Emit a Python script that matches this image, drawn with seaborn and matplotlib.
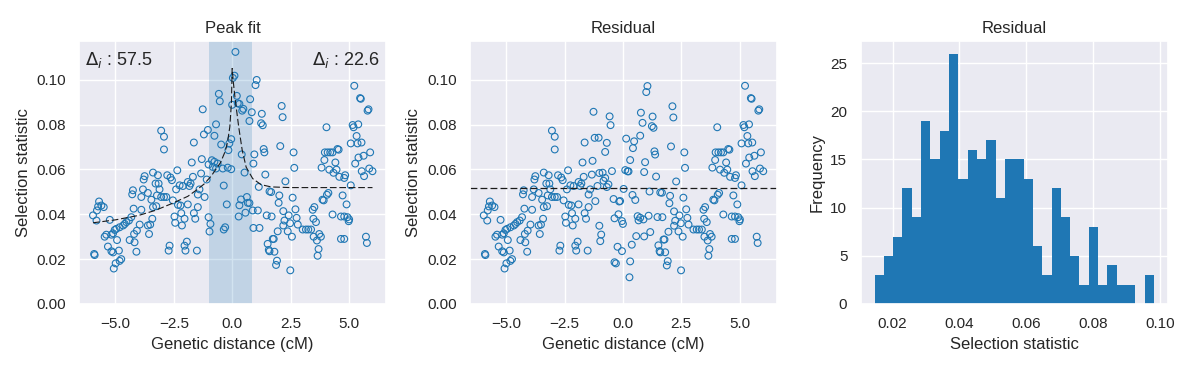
import numpy as np
import pandas as pd
import seaborn as sns
import matplotlib
matplotlib.use("Agg")
import matplotlib.pyplot as plt

# scatter points (genetic distance in cM, selection statistic)
dist = [
    -3.39, -3.75, -3.79, -4.25, -4.28, -3.82, -3.61, -3.89, -3.46, -5.70,
    -5.60, -5.50, -5.74, -5.79, -5.96, -5.81, -5.24, -4.22, -3.89, -3.39,
    -3.42, -3.51, -3.61, -3.56, -4.32, -4.42, -4.53, -4.60, -4.67, -4.82,
    -4.96, -5.10, -5.39, -5.46, -4.93, -3.96, -4.08, -4.20, -4.39, -4.18,
    -5.32, -5.17, -5.10, -4.85, -4.10, -5.91, -4.75, -4.82, -4.99, -5.07,
    -3.28, -3.22, -5.17, -5.03, -5.89,
    -3.04, -2.92, -2.92, -1.26, -0.57, -0.53, -0.69, -1.04, -1.21, -0.76,
    -1.64, -0.47, -0.12, -0.16, -1.30, -1.73, -0.87, -0.76, -1.01, -0.62,
    -0.83, -0.69, -0.40, -0.19, -2.35, -3.18, -2.78, -2.64, -2.58, -1.68,
    -1.33, -1.90, -1.78, -1.83, -2.25, -2.11, -3.15, -3.11, -2.40, -1.40,
    -1.09, -0.36, -2.54, -3.04, -2.92, -2.82, -1.47, -1.18, -2.32, -2.21,
    -1.90, -3.25, -1.47, -2.18, -1.64, -2.47, -2.04, -1.58, -1.01, -2.44,
    -2.15, -0.93, -0.23, -0.30, -0.36, -0.97, -2.68, -2.72, -1.94, -2.04,
    -2.00, -1.51,
    0.14, 0.10, 0.03, 1.05, 1.00, 0.20, 0.24, 0.31, 0.00, 0.77,
    0.48, 0.43, 0.84, 0.74, 1.27, 1.24, 1.31, 2.12, 2.16, -0.04,
    1.35, 1.38, 2.06, 2.63, 0.95, 0.41, 0.91, 2.66, -0.04, 0.53,
    1.42, 2.28, 1.14, 1.60, 1.67, 2.02, 2.59, 0.38, 0.63, 0.67,
    0.74, 0.31, 1.99, 0.88, 1.10, 0.57, 2.19, 2.71, 0.28, 1.48,
    1.69, 2.42, 2.76, 2.24, 2.48, 2.81, 2.19, 0.91, 1.17, 3.02,
    1.95, 2.38, 2.56, 1.74, 1.78, 1.52, 1.57, 1.60, 1.81, 1.92,
    1.88, 2.49,
    5.23, 5.48, 5.51, 5.80, 5.84, 4.04, 5.16, 5.20, 5.40, 5.33,
    5.08, 5.37, 5.54, 3.97, 4.09, 4.20, 4.30, 4.51, 4.56, 5.91,
    3.95, 4.42, 5.41, 5.63, 5.27, 3.83, 4.16, 4.47, 4.34, 5.55,
    5.87, 6.01, 5.65, 4.59, 4.84, 4.80, 5.08, 4.12, 4.06, 3.87,
    3.92, 4.73, 4.90, 3.52, 3.45, 4.30, 4.66, 4.80, 4.94, 5.01,
    4.99, 3.48, 3.59, 3.16, 3.26, 3.38, 3.73, 3.80, 3.49, 3.63,
    4.66, 4.80, 5.73, 5.77, 3.70, 3.66,
]
stat = [
    0.0586, 0.0570, 0.0555, 0.0507, 0.0489, 0.0511, 0.0495, 0.0477, 0.0465, 0.0457,
    0.0439, 0.0432, 0.0435, 0.0417, 0.0395, 0.0372, 0.0375, 0.0425, 0.0420, 0.0432,
    0.0380, 0.0354, 0.0350, 0.0312, 0.0387, 0.0372, 0.0365, 0.0357, 0.0350, 0.0342,
    0.0335, 0.0315, 0.0309, 0.0300, 0.0285, 0.0354, 0.0327, 0.0312, 0.0285, 0.0275,
    0.0256, 0.0235, 0.0230, 0.0238, 0.0233, 0.0223, 0.0200, 0.0192, 0.0181, 0.0158,
    0.0537, 0.0484, 0.0309, 0.0330, 0.0218,
    0.0773, 0.0746, 0.0689, 0.0868, 0.0937, 0.0904, 0.0801, 0.0776, 0.0756, 0.0750,
    0.0720, 0.0711, 0.0716, 0.0686, 0.0646, 0.0631, 0.0641, 0.0634, 0.0622, 0.0626,
    0.0611, 0.0604, 0.0604, 0.0608, 0.0596, 0.0574, 0.0574, 0.0564, 0.0552, 0.0567,
    0.0582, 0.0544, 0.0537, 0.0526, 0.0529, 0.0526, 0.0537, 0.0511, 0.0511, 0.0511,
    0.0555, 0.0528, 0.0462, 0.0477, 0.0477, 0.0477, 0.0488, 0.0477, 0.0442, 0.0439,
    0.0444, 0.0436, 0.0432, 0.0405, 0.0405, 0.0390, 0.0380, 0.0380, 0.0387, 0.0362,
    0.0350, 0.0357, 0.0444, 0.0342, 0.0332, 0.0323, 0.0260, 0.0238, 0.0278, 0.0260,
    0.0238, 0.0238,
    0.1124, 0.1018, 0.1008, 0.0999, 0.0976, 0.0928, 0.0895, 0.0892, 0.0888, 0.0913,
    0.0870, 0.0862, 0.0855, 0.0816, 0.0848, 0.0806, 0.0797, 0.0883, 0.0833, 0.0735,
    0.0691, 0.0676, 0.0704, 0.0676, 0.0667, 0.0667, 0.0626, 0.0607, 0.0601, 0.0586,
    0.0577, 0.0547, 0.0522, 0.0502, 0.0499, 0.0484, 0.0474, 0.0466, 0.0477, 0.0451,
    0.0450, 0.0440, 0.0451, 0.0417, 0.0417, 0.0407, 0.0414, 0.0422, 0.0390, 0.0395,
    0.0390, 0.0395, 0.0384, 0.0372, 0.0360, 0.0354, 0.0350, 0.0339, 0.0339, 0.0332,
    0.0324, 0.0324, 0.0300, 0.0290, 0.0290, 0.0268, 0.0241, 0.0235, 0.0233, 0.0193,
    0.0174, 0.0150,
    0.0973, 0.0918, 0.0915, 0.0862, 0.0868, 0.0788, 0.0798, 0.0788, 0.0801, 0.0749,
    0.0716, 0.0716, 0.0720, 0.0676, 0.0676, 0.0676, 0.0676, 0.0691, 0.0688, 0.0676,
    0.0642, 0.0631, 0.0653, 0.0661, 0.0626, 0.0608, 0.0599, 0.0599, 0.0585, 0.0592,
    0.0604, 0.0592, 0.0570, 0.0567, 0.0574, 0.0562, 0.0529, 0.0495, 0.0487, 0.0465,
    0.0462, 0.0484, 0.0444, 0.0432, 0.0420, 0.0399, 0.0390, 0.0390, 0.0387, 0.0377,
    0.0369, 0.0380, 0.0365, 0.0332, 0.0332, 0.0332, 0.0312, 0.0300, 0.0300, 0.0283,
    0.0290, 0.0290, 0.0300, 0.0272, 0.0245, 0.0215,
]

# fitted peak curve
fit_x = [-5.96, -5.0, -4.0, -3.3, -2.6, -1.9, -1.5, -1.2, -0.9, -0.7, -0.5, -0.3, -0.2,
         -0.1, -0.03, 0.0, 0.05, 0.1, 0.17, 0.28, 0.43, 0.6, 0.88, 1.24, 1.67, 2.5, 6.01]
fit_y = [0.0362, 0.0375, 0.0395, 0.0417, 0.0447, 0.0480, 0.0510, 0.0535, 0.0570, 0.0600,
         0.0630, 0.0680, 0.0720, 0.0790, 0.0900, 0.1050, 0.0990, 0.0940, 0.0880, 0.0790,
         0.0686, 0.0610, 0.0559, 0.0532, 0.0522, 0.0519, 0.0519]
baseline = 0.0519
peak_lo, peak_hi = -1.0, 0.855
delta_left = 57.5
delta_right = 22.6

# residual histogram (30 bins)
hist_lo, hist_hi = 0.0146, 0.0982
hist_counts = [3, 5, 7, 12, 9, 19, 15, 18, 26, 13, 16, 15, 17, 11, 15,
               15, 13, 6, 3, 12, 9, 5, 2, 8, 2, 4, 2, 2, 0, 3]

BLUE = "#1f77b4"

df = pd.DataFrame({"dist": dist, "stat": stat})
excess = np.clip(np.interp(df["dist"], fit_x, fit_y) - baseline, 0, None)
df["resid"] = df["stat"] - excess

edges = np.linspace(hist_lo, hist_hi, len(hist_counts) + 1)
hist_df = pd.DataFrame({"center": (edges[:-1] + edges[1:]) / 2, "count": hist_counts})

sns.set_theme(style="darkgrid")
plt.rcParams["font.family"] = ["Liberation Sans", "DejaVu Sans"]

fig, axes = plt.subplots(1, 3, figsize=(11.9, 3.68), dpi=100)
fig.subplots_adjust(left=0.0664, right=0.9815, bottom=0.174, top=0.8886, wspace=0.271)

ax = axes[0]
ax.axvspan(peak_lo, peak_hi, color=BLUE, alpha=0.2, lw=0)
sns.scatterplot(data=df, x="dist", y="stat", ax=ax, s=24, facecolor="none",
                edgecolor=BLUE, linewidth=0.8)
sns.lineplot(x=fit_x, y=fit_y, ax=ax, color="k", lw=0.8)
ax.lines[-1].set_dashes([6, 2.5])
ax.set_ylim(bottom=0)
ax.text(0.02, 0.965, r"$\Delta_i$ : %.1f" % delta_left, transform=ax.transAxes,
        ha="left", va="top", fontsize=13)
ax.text(0.977, 0.965, r"$\Delta_i$ : %.1f" % delta_right, transform=ax.transAxes,
        ha="right", va="top", fontsize=13)
ax.set_title("Peak fit")
ax.set_xlabel("Genetic distance (cM)")
ax.set_ylabel("Selection statistic")
ylim = ax.get_ylim()

ax = axes[1]
sns.scatterplot(data=df, x="dist", y="resid", ax=ax, s=24, facecolor="none",
                edgecolor=BLUE, linewidth=0.8)
ax.axhline(baseline, color="k", lw=0.9, dashes=[5.5, 2.5])
ax.set_ylim(ylim)
ax.set_xlim(axes[0].get_xlim())
ax.set_title("Residual")
ax.set_xlabel("Genetic distance (cM)")
ax.set_ylabel("Selection statistic")

ax = axes[2]
sns.histplot(data=hist_df, x="center", weights="count", bins=len(hist_counts),
             binrange=(hist_lo, hist_hi), ax=ax, color=BLUE, alpha=1, linewidth=0)
ax.set_title("Residual")
ax.set_xlabel("Selection statistic")
ax.set_ylabel("Frequency")

fig.savefig("out.png", dpi=100)
